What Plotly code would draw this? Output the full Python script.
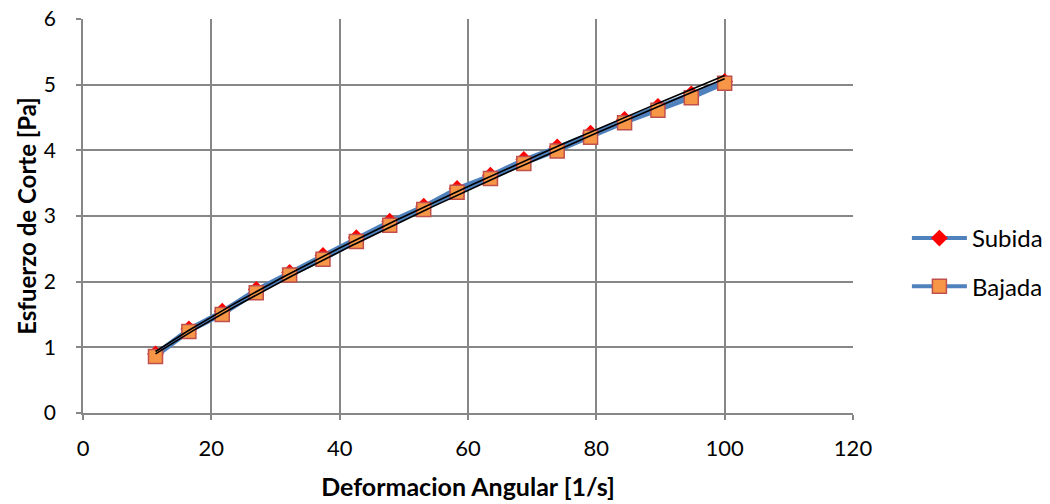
import numpy as np
import plotly.graph_objects as go

# Shear rate (1/s) and shear stress (Pa) readings
deformacion = [11.3, 16.5, 21.7, 27.0, 32.2, 37.4, 42.6, 47.8, 53.1,
               58.3, 63.5, 68.7, 73.9, 79.1, 84.4, 89.6, 94.8, 100.0]
subida = [0.90, 1.28, 1.55, 1.88, 2.14, 2.40, 2.67, 2.92, 3.15,
          3.42, 3.62, 3.86, 4.05, 4.26, 4.47, 4.67, 4.86, 5.05]
bajada = [0.86, 1.24, 1.50, 1.83, 2.10, 2.34, 2.61, 2.86, 3.10,
          3.36, 3.57, 3.80, 3.99, 4.20, 4.42, 4.61, 4.80, 5.02]

x_ticks = [0, 20, 40, 60, 80, 100, 120]
y_ticks = [0, 1, 2, 3, 4, 5, 6]

FONT = "Lato, 'Open Sans', sans-serif"
GRID = "#878787"
BLUE = "#4F81BD"


def power_fit(x, y):
    """Least-squares power trendline y = a * x^b evaluated on a fine grid."""
    x = np.asarray(x, float)
    y = np.asarray(y, float)
    b, ln_a = np.polyfit(np.log(x), np.log(y), 1)
    xs = np.linspace(x.min(), x.max(), 200)
    return xs, np.exp(ln_a) * xs ** b


fig = go.Figure()

fig.add_trace(go.Scatter(
    x=deformacion, y=subida, name="Subida", mode="lines+markers",
    line=dict(color=BLUE, width=4),
    marker=dict(symbol="diamond", size=13, color="#FF0000"),
    legendgroup="s",
))
fig.add_trace(go.Scatter(
    x=deformacion, y=bajada, name="Bajada", mode="lines+markers",
    line=dict(color=BLUE, width=4),
    marker=dict(symbol="square", size=14, color="#F79646",
                line=dict(color="#C0504D", width=1.5)),
    legendgroup="b",
))

# Power-law trendlines for both series
for ys in (subida, bajada):
    tx, ty = power_fit(deformacion, ys)
    fig.add_trace(go.Scatter(
        x=tx, y=ty, mode="lines", showlegend=False, hoverinfo="skip",
        line=dict(color="black", width=1.6),
    ))

axis_common = dict(
    showgrid=True, gridcolor=GRID, gridwidth=1.5,
    showline=True, linecolor=GRID, linewidth=1.5,
    ticks="outside", ticklen=5, tickcolor=GRID, tickwidth=1.5,
    zeroline=False, mirror=False, automargin=False,
)

fig.update_xaxes(
    range=[0, 120], tickvals=x_ticks,
    tickfont=dict(family=FONT, size=22, color="#000000"),
    ticklabelstandoff=10,
    title=dict(text="<b>Deformacion Angular [1/s]</b>",
               font=dict(family=FONT, size=25, color="#000000"), standoff=18),
    **axis_common,
)
fig.update_yaxes(
    range=[0, 6], tickvals=y_ticks,
    tickfont=dict(family=FONT, size=21, color="#000000"),
    ticklabelstandoff=16,
    title=dict(text="<b>Esfuerzo de Corte [Pa]</b>",
               font=dict(family=FONT, size=24, color="#000000"), standoff=0),
    **axis_common,
)

fig.update_layout(
    width=1050, height=504,
    margin=dict(l=83, r=197, t=19, b=91, autoexpand=False),
    paper_bgcolor="white", plot_bgcolor="white",
    showlegend=True,
    legend=dict(
        x=1.07, y=0.382, xanchor="left", yanchor="middle",
        font=dict(family=FONT, size=24, color="#000000"),
        itemwidth=55, tracegroupgap=14,
        bgcolor="rgba(0,0,0,0)",
    ),
)

fig.write_html("out.html")
